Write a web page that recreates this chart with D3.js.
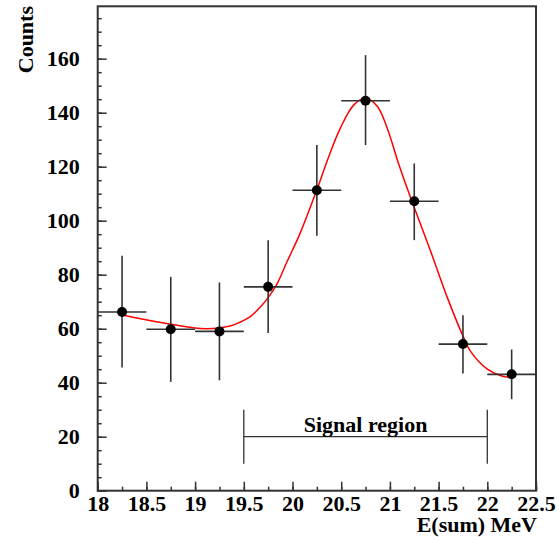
<!DOCTYPE html>
<html>
<head>
<meta charset="utf-8">
<script src="https://cdn.jsdelivr.net/npm/d3@7"></script>
<style>
  body { margin: 0; background: #fff; }
  svg text { font-family: "Liberation Serif", "Times New Roman", serif; font-weight: bold; }
</style>
</head>
<body>
<svg id="chart" width="559" height="537"></svg>
<script>
// measured bins (bin centre, counts, error bar low / high)
var binCenters = [18.25, 18.75, 19.25, 19.75, 20.25, 20.75, 21.25, 21.75, 22.25];
var counts     = [66.2, 59.8, 59.0, 75.5, 111.3, 144.4, 107.2, 54.3, 43.1];
var errLow     = [45.6, 40.3, 40.9, 58.4, 94.4, 128.0, 92.8, 43.4, 33.9];
var errHigh    = [87.0, 79.2, 77.1, 92.8, 128.0, 161.3, 121.2, 65.0, 52.3];
var binHalf = 0.25;

// fit curve
var fitX = [18.25, 18.6, 18.95, 19.12, 19.36, 19.46, 19.57, 19.67, 19.75, 19.84, 19.94, 20.08,
            20.26, 20.37, 20.49, 20.63, 20.75, 20.87, 20.97, 21.09, 21.24, 21.42, 21.59, 21.76,
            21.83, 22.0, 22.14, 22.24];
var fitY = [65.1, 62.6, 60.5, 60.0, 61.0, 62.4, 64.6, 68.0, 71.5, 76.5, 84.5, 95.5,
            112.4, 123.5, 134.2, 142.9, 145.3, 142.4, 134.5, 121.0, 105.8, 88.5, 71.5, 56.5,
            51.5, 45.0, 42.6, 42.0];

var signalRange = [19.5, 22];
var signalLabel = "Signal region";

var xTicks = [18, 18.5, 19, 19.5, 20, 20.5, 21, 21.5, 22, 22.5];
var yTicks = [0, 20, 40, 60, 80, 100, 120, 140, 160];

var svg = d3.select("#chart");
var pLeft = 97.7, pRight = 536, pTop = 6.3, pBottom = 490.7;
var ink = "#333";

var x = d3.scaleLinear().domain([18, 22.5]).range([pLeft, pRight]);
var y = d3.scaleLinear().domain([0, 179.4]).range([pBottom, pTop]);

// frame
svg.append("rect")
    .attr("x", pLeft).attr("y", pTop)
    .attr("width", pRight - pLeft).attr("height", pBottom - pTop)
    .attr("fill", "none").attr("stroke", ink).attr("stroke-width", 2);

// minor ticks
var xMinor = d3.range(18, 22.5001, 0.25);
var yMinor = d3.range(0, 179, 5);

svg.append("g")
    .attr("transform", "translate(0," + pBottom + ")")
    .call(d3.axisBottom(x).tickValues(xMinor).tickSize(-4).tickSizeOuter(0).tickFormat(""))
    .call(function (g) { g.select(".domain").remove(); });

svg.append("g")
    .attr("transform", "translate(" + pLeft + ",0)")
    .call(d3.axisLeft(y).tickValues(yMinor).tickSize(-4).tickSizeOuter(0).tickFormat(""))
    .call(function (g) { g.select(".domain").remove(); });

// major ticks + labels
var gx = svg.append("g")
    .attr("transform", "translate(0," + pBottom + ")")
    .call(d3.axisBottom(x).tickValues(xTicks).tickSize(-9).tickSizeOuter(0).tickPadding(5)
        .tickFormat(function (d) { return d; }));
gx.select(".domain").remove();

var gy = svg.append("g")
    .attr("transform", "translate(" + pLeft + ",0)")
    .call(d3.axisLeft(y).tickValues(yTicks).tickSize(-9).tickSizeOuter(0).tickPadding(18));
gy.select(".domain").remove();

svg.selectAll(".tick line").attr("stroke", ink).attr("stroke-width", 1.5);
svg.selectAll(".tick text")
    .attr("font-size", 22)
    .attr("fill", "#000")
    .style("font-family", "'Liberation Serif', serif")
    .style("font-weight", "bold");

// axis titles
svg.append("text")
    .attr("x", 537).attr("y", 532)
    .attr("text-anchor", "end")
    .attr("font-size", 22)
    .text("E(sum) MeV");

svg.append("text")
    .attr("transform", "translate(33,6) rotate(-90)")
    .attr("text-anchor", "end")
    .attr("font-size", 22)
    .text("Counts");

// signal region marker
var sig = svg.append("g").attr("stroke", ink).attr("stroke-width", 1.3);
sig.append("line")
    .attr("x1", x(signalRange[0])).attr("x2", x(signalRange[1]))
    .attr("y1", y(20)).attr("y2", y(20));
signalRange.forEach(function (v) {
    sig.append("line")
        .attr("x1", x(v)).attr("x2", x(v))
        .attr("y1", y(30)).attr("y2", y(10));
});
svg.append("text")
    .attr("x", x((signalRange[0] + signalRange[1]) / 2))
    .attr("y", y(20) - 4.5)
    .attr("text-anchor", "middle")
    .attr("font-size", 22)
    .text(signalLabel);

// fit curve
var fitData = fitX.map(function (d, i) { return [d, fitY[i]]; });
svg.append("path")
    .datum(fitData)
    .attr("fill", "none")
    .attr("stroke", "#ff0000")
    .attr("stroke-width", 1.5)
    .attr("d", d3.line()
        .x(function (d) { return x(d[0]); })
        .y(function (d) { return y(d[1]); })
        .curve(d3.curveCatmullRom.alpha(0.5)));

// data points with error bars
var bins = binCenters.map(function (c, i) {
    return { c: c, v: counts[i], lo: errLow[i], hi: errHigh[i] };
});

var gp = svg.append("g");
gp.selectAll("line.ey").data(bins).enter().append("line")
    .attr("class", "ey")
    .attr("x1", function (d) { return x(d.c); })
    .attr("x2", function (d) { return x(d.c); })
    .attr("y1", function (d) { return y(d.lo); })
    .attr("y2", function (d) { return y(d.hi); })
    .attr("stroke", ink).attr("stroke-width", 1.6);

gp.selectAll("line.ex").data(bins).enter().append("line")
    .attr("class", "ex")
    .attr("x1", function (d) { return x(d.c - binHalf); })
    .attr("x2", function (d) { return x(d.c + binHalf); })
    .attr("y1", function (d) { return y(d.v); })
    .attr("y2", function (d) { return y(d.v); })
    .attr("stroke", ink).attr("stroke-width", 1.6);

gp.selectAll("circle").data(bins).enter().append("circle")
    .attr("cx", function (d) { return x(d.c); })
    .attr("cy", function (d) { return y(d.v); })
    .attr("r", 5)
    .attr("fill", "#000");
</script>
</body>
</html>
